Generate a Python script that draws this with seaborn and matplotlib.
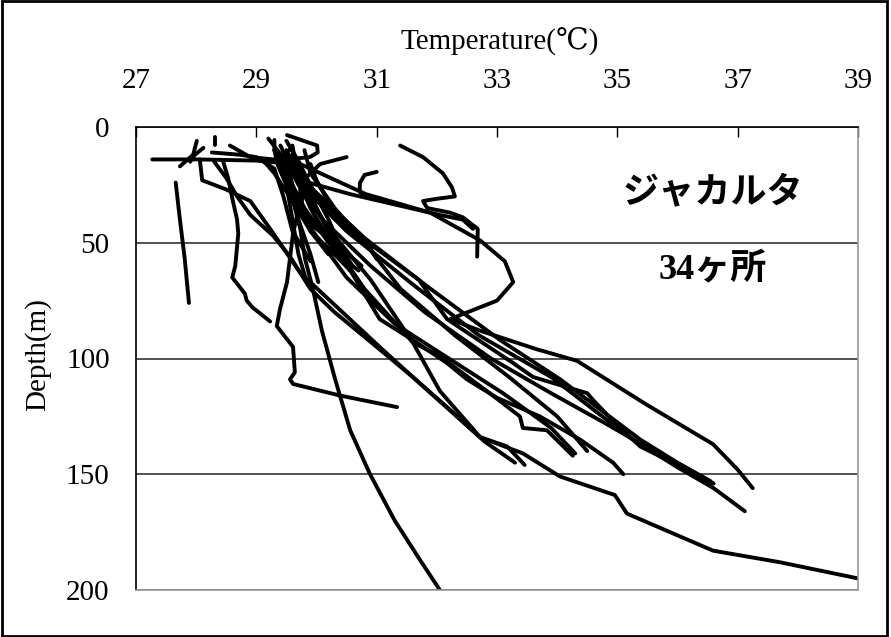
import numpy as np
import pandas as pd
import matplotlib
matplotlib.use("Agg")
import matplotlib.pyplot as plt
import seaborn as sns
from matplotlib.patches import Rectangle

# ---- data: temperature (deg C) / depth (m) profiles ----
p01_t = [29.6, 29.7, 30.2, 30.9, 31.6, 32.05, 32.72, 33.43, 34.05, 34.96, 35.16, 36.59, 37.7, 39.0]
p01_d = [8, 23, 44, 66, 93, 114, 134, 141, 151, 159, 167, 183, 188, 195]
p02_t = [29.5, 29.73, 30.82, 31.89, 32.72, 33.13, 33.27, 33.0, 32.22, 32.72, 33.66, 34.33, 35.49, 36.59, 37.0, 37.25]
p02_d = [6, 16, 29, 37, 49, 58, 67, 75, 83, 88, 96, 101, 120, 137, 148, 156]
p03_t = [31.39, 31.77, 32.1, 32.25, 32.3, 32.0, 31.77, 31.84, 32.22, 32.43, 32.68, 32.67]
p03_d = [8, 13, 20, 26, 30, 31, 32, 35, 37, 39, 44, 56]
p04_t = [29.5, 29.73, 30.56, 31.39, 32.05, 32.43, 32.6]
p04_d = [12, 23, 29, 34, 38, 40, 44]
p05_t = [31.0, 30.8, 30.72, 30.72, 30.8]
p05_d = [19.4, 20.7, 24.2, 28, 30]
p06_t = [30.5, 30.06, 29.78, 29.75, 29.9, 30.3, 30.56]
p06_d = [13, 16, 23, 35, 45, 55, 62]
p07_t = [29.51, 30.01, 30.02, 29.89, 29.51, 29.4, 29.6, 29.9, 30.4, 30.75]
p07_d = [3.5, 8, 11, 13, 14, 19, 30, 42, 52, 60]
p08_t = [27.27, 28.0, 29.0, 29.6, 29.8, 30.4, 31.05, 31.6, 32.17, 32.5, 33.0, 33.71, 34.38, 34.93, 35.1]
p08_d = [14, 14, 14.5, 16, 25, 55, 83, 92, 102, 109, 117, 125, 135, 145, 150]
p09_t = [29.3, 29.64, 30.0, 30.8, 31.6, 32.05, 32.88, 33.38, 33.43, 33.83, 34.26]
p09_d = [10, 21, 40, 70, 93, 99, 115, 125, 130, 131, 142]
p10_t = [28.06, 28.1, 28.5, 28.9, 29.23, 29.73, 30.39, 31.05, 31.6, 32.17, 32.72, 33.17, 33.46]
p10_d = [14, 23, 27, 32, 44, 63, 79, 95, 108, 121, 134, 138, 146]
p11_t = [29.4, 29.56, 29.73, 29.81, 29.94, 30.09, 30.31, 30.56, 30.89, 31.3, 31.72, 32.05]
p11_d = [12, 27, 44, 57, 70, 88, 109, 131, 150, 170, 187, 200]
p12_t = [29.6, 29.73, 29.73, 29.61, 29.51, 29.39, 29.34, 29.43, 29.61, 29.64, 29.56, 29.61, 30.39, 31.34]
p12_d = [15, 25, 32, 46, 67, 79, 86, 89, 95, 106, 109, 111, 116, 121]
p13_t = [28.45, 28.53, 28.61, 28.68, 28.7, 28.65, 28.6, 28.81, 28.84, 28.94, 29.23]
p13_d = [15, 22, 32, 40, 46, 60, 65, 72, 75, 78, 84]
p14_t = [27.66, 27.73, 27.81, 27.88]
p14_d = [24, 40, 57, 76]
p15_t = [29.5, 29.8, 30.6, 31.7, 32.17, 33.27, 33.6, 34.5, 34.6, 34.93, 35.38, 36.0, 36.59]
p15_d = [10, 25, 45, 66, 83, 102, 108, 115, 118, 127, 138, 146, 154]
p16_t = [29.6, 29.9, 30.8, 31.9, 33.05, 34.05, 35.38, 36.0, 36.55]
p16_d = [12, 26, 48, 70, 92, 109, 135, 145, 153]
p17_t = [29.4, 29.7, 30.5, 31.6, 32.7, 33.9, 35.2, 36.0, 36.6, 37.12]
p17_d = [8, 24, 45, 68, 90, 108, 134, 147, 156, 166]
p18_t = [29.3, 29.5, 29.8, 30.2, 30.56]
p18_d = [10, 20, 35, 50, 62]
p19_t = [29.5, 29.6, 29.7, 29.9, 30.03]
p19_d = [14, 25, 40, 55, 67]
p20_t = [29.7, 29.9, 30.2, 30.4, 30.6]
p20_d = [15, 25, 40, 52, 60]
p21_t = [29.9, 30.0, 30.34, 30.5, 30.89, 31.0]
p21_d = [16, 23, 39, 44, 52, 57]
p22_t = [28.26, 28.5, 28.73, 29.0, 29.3, 29.45, 29.6, 29.9]
p22_d = [11, 11.5, 12, 13, 18, 30, 45, 58]
p23_t = [28.31, 28.31]
p23_d = [4.3, 7.8]
p24_t = [28.01, 27.95, 27.73]
p24_d = [6, 12, 17]
p25_t = [28.12, 27.98, 27.9]
p25_d = [9, 12, 15]
p26_t = [28.56, 28.9, 29.28, 29.73, 29.9, 30.2, 30.5]
p26_d = [8, 13, 14, 19, 30, 45, 55]
p27_t = [29.3, 29.3, 29.35, 29.5, 29.9, 30.4]
p27_d = [5.6, 10, 16, 25, 40, 55]
p28_t = [29.56, 29.44, 29.5, 29.8, 30.5, 31.3, 32.2, 33.1, 33.9, 34.3]
p28_d = [9.5, 14, 20, 40, 65, 85, 100, 115, 130, 141]
p29_t = [28.3, 28.5, 28.68, 28.9, 29.28, 29.56, 29.9, 30.3, 31.0, 31.6, 32.2, 32.8, 33.3]
p29_d = [15, 22, 30, 38, 47, 56, 70, 80, 95, 108, 122, 136, 145]
p30_t = [29.2, 29.5, 29.7, 30.1, 30.9, 31.8, 32.9, 33.9, 34.8, 35.6, 36.3, 36.6]
p30_d = [5, 15, 25, 40, 60, 80, 100, 115, 128, 140, 150, 154]
p31_t = [29.8, 29.9, 30.3, 30.8, 31.4, 32.3, 33.2, 34.0, 34.5]
p31_d = [10, 20, 35, 50, 70, 90, 108, 125, 140]
p32_t = [29.6, 29.7, 29.9, 30.2, 30.5, 30.7]
p32_d = [12, 22, 35, 48, 58, 62]
p33_t = [29.35, 29.5, 29.6, 29.7, 29.85]
p33_d = [14, 25, 40, 55, 68]
p34_t = [29.1, 29.3, 29.6, 29.9, 30.2]
p34_d = [14, 20, 32, 45, 55]

x_ticks = [27, 29, 31, 33, 35, 37, 39]
y_ticks = [0, 50, 100, 150, 200]
x_title = "Temperature(℃)"
y_title = "Depth(m)"
city_label = "ジャカルタ"
count_label = "34ヶ所"

profiles = [
    (p01_t, p01_d), (p02_t, p02_d), (p03_t, p03_d), (p04_t, p04_d), (p05_t, p05_d),
    (p06_t, p06_d), (p07_t, p07_d), (p08_t, p08_d), (p09_t, p09_d), (p10_t, p10_d),
    (p11_t, p11_d), (p12_t, p12_d), (p13_t, p13_d), (p14_t, p14_d), (p15_t, p15_d),
    (p16_t, p16_d), (p17_t, p17_d), (p18_t, p18_d), (p19_t, p19_d), (p20_t, p20_d),
    (p21_t, p21_d), (p22_t, p22_d), (p23_t, p23_d), (p24_t, p24_d), (p25_t, p25_d),
    (p26_t, p26_d), (p27_t, p27_d), (p28_t, p28_d), (p29_t, p29_d), (p30_t, p30_d),
    (p31_t, p31_d), (p32_t, p32_d), (p33_t, p33_d), (p34_t, p34_d),
]

rows = []
for i, (t, d) in enumerate(profiles):
    for j, (tt, dd) in enumerate(zip(t, d)):
        rows.append({"profile": i, "order": j, "temp": tt, "depth": dd})
df = pd.DataFrame(rows)

sns.set_theme(style="white")
plt.rcParams["font.family"] = ["Liberation Serif", "DejaVu Serif", "Noto Sans CJK JP"]

W, H = 891, 637
fig = plt.figure(figsize=(W / 100, H / 100), dpi=100)
ax = fig.add_axes([136 / W, 1 - 590 / H, 722 / W, 463 / H])

ax.grid(True, axis="y", color="#222222", lw=1.1)
ax.grid(False, axis="x")
ax.set_axisbelow(True)

sns.lineplot(data=df, x="temp", y="depth", units="profile", estimator=None,
             sort=False, color="black", lw=2.8, ax=ax, legend=False)
for ln in ax.get_lines():
    ln.set_solid_joinstyle("round")
    ln.set_solid_capstyle("round")

ax.set_xlim(27, 39)
ax.set_ylim(200, 0)
ax.set_xticks(x_ticks)
ax.set_yticks(y_ticks)
ax.xaxis.tick_top()
ax.tick_params(axis="x", direction="in", length=7, width=1, color="black",
               pad=24, labelsize=21, labelcolor="black", top=True, bottom=False)
ax.tick_params(axis="y", length=0, pad=19, labelsize=21, labelcolor="black")

ax.xaxis.set_label_position("top")
ax.set_xlabel(x_title, fontsize=21, color="black")
ax.xaxis.set_label_coords(0.504, 1.168)
ax.set_ylabel(y_title, fontsize=21, color="black")
ax.yaxis.set_label_coords(-0.118, 0.508)

for side in ["top", "left"]:
    ax.spines[side].set_color("black")
    ax.spines[side].set_linewidth(1.2)
for side in ["right", "bottom"]:
    ax.spines[side].set_color("#999999")
    ax.spines[side].set_linewidth(1.2)

ax.text(0.799, 0.857, city_label, transform=ax.transAxes, ha="center", va="center",
        fontsize=26, fontweight="bold", family=["Noto Sans CJK JP"], color="black")
ax.text(0.799, 0.693, count_label, transform=ax.transAxes, ha="center", va="center",
        fontsize=26, fontweight="bold", family=["Liberation Serif", "Noto Sans CJK JP"],
        color="black")

fig.patches.append(Rectangle((0.002, 0.001), 0.994, 0.997, transform=fig.transFigure,
                             fill=False, ec="black", lw=2))

fig.savefig("out.png", dpi=100)
